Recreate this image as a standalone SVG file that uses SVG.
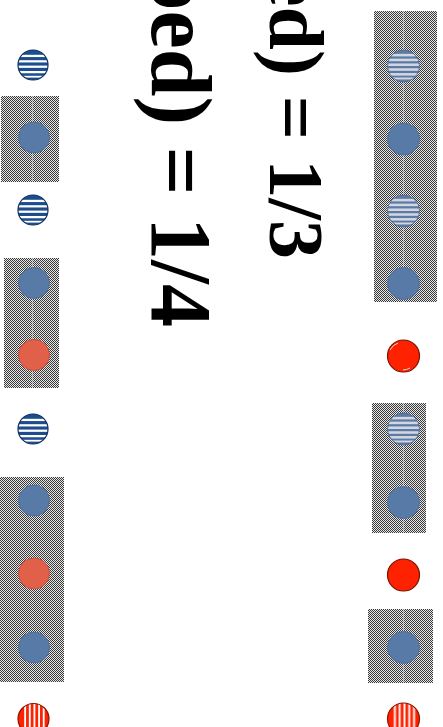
<svg xmlns="http://www.w3.org/2000/svg" width="443" height="727" viewBox="0 0 443 727">
<style>
.t{font-family:"Liberation Serif","Times New Roman",serif;font-weight:bold;fill:#000}
.box{fill:url(#chk)}
.mid{stroke:#ffffff;stroke-width:1;stroke-dasharray:1 1;opacity:0.4}
.sb{fill:url(#hs);stroke:#0c2f63;stroke-width:1.2}
.bb{fill:#587aa6;stroke:#4a6a96;stroke-width:0.8}
.lb{fill:url(#hs2);stroke:#4a6a96;stroke-width:0.8}
.rb{fill:#e0604a;stroke:#c04a38;stroke-width:0.8}
.rs{fill:#ff2200;stroke:#7a1200;stroke-width:1.2}
.hl{fill:none;stroke:#ffd0c8;stroke-width:1}
.vs{fill:url(#vs);stroke:#8a1400;stroke-width:1.2}
</style>
<defs>
<pattern id="chk" width="2" height="2" patternUnits="userSpaceOnUse">
<rect width="2" height="2" fill="#e6e6e6"/>
<rect x="0" y="0" width="1" height="1" fill="#3a3a3a"/>
<rect x="1" y="1" width="1" height="1" fill="#3a3a3a"/>
</pattern>
<pattern id="hs" width="1" height="1" patternContentUnits="objectBoundingBox">
<rect width="1" height="1" fill="#1d4d8c"/>
<rect y="0.16" width="1" height="0.075" fill="#fff"/>
<rect y="0.34" width="1" height="0.075" fill="#fff"/>
<rect y="0.52" width="1" height="0.075" fill="#fff"/>
<rect y="0.70" width="1" height="0.075" fill="#fff"/>
<rect y="0.86" width="1" height="0.06" fill="#fff"/>
</pattern>
<pattern id="hs2" width="1" height="1" patternContentUnits="objectBoundingBox">
<rect width="1" height="1" fill="#5a7aa8"/>
<rect y="0.12" width="1" height="0.08" fill="#d4d6de"/>
<rect y="0.27" width="1" height="0.08" fill="#d4d6de"/>
<rect y="0.42" width="1" height="0.08" fill="#d4d6de"/>
<rect y="0.57" width="1" height="0.08" fill="#d4d6de"/>
<rect y="0.72" width="1" height="0.08" fill="#d4d6de"/>
<rect y="0.86" width="1" height="0.06" fill="#d4d6de"/>
</pattern>
<pattern id="vs" width="1" height="1" patternContentUnits="objectBoundingBox">
<rect width="1" height="1" fill="#ff2200"/>
<rect x="0.2" width="0.06" height="1" fill="#fff"/>
<rect x="0.35" width="0.06" height="1" fill="#fff"/>
<rect x="0.5" width="0.06" height="1" fill="#fff"/>
<rect x="0.65" width="0.06" height="1" fill="#fff"/>
<rect x="0.8" width="0.06" height="1" fill="#fff"/>
</pattern>
</defs>
<rect width="443" height="727" fill="#fff"/>

<g id="text-1-3"><text class="t" font-size="78" text-anchor="end" transform="translate(270,259) rotate(90)">ed) = 1/3</text></g>
<g id="text-1-4"><text class="t" font-size="86" text-anchor="end" transform="translate(152,327) rotate(90)">ped) = 1/4</text></g>

<g id="left-column">
<g id="L1"><circle class="sb" cx="33" cy="65" r="15"/></g>
<g id="L2"><rect class="box" x="1" y="96" width="58" height="86"/><line class="mid" x1="32.5" y1="96" x2="32.5" y2="182"/><circle class="bb" cx="34" cy="137.5" r="15.5"/></g>
<g id="L3"><circle class="sb" cx="33" cy="210" r="15"/></g>
<g id="L4"><rect class="box" x="4" y="258" width="55" height="130"/><line class="mid" x1="32.5" y1="258" x2="32.5" y2="388"/><circle class="bb" cx="34" cy="283" r="15.5"/><circle class="rb" cx="34" cy="355" r="15.5"/></g>
<g id="L5"><circle class="sb" cx="33" cy="429" r="15"/></g>
<g id="L6"><rect class="box" x="0" y="477" width="64" height="205"/><line class="mid" x1="32.5" y1="477" x2="32.5" y2="682"/><circle class="bb" cx="34" cy="500.5" r="15.5"/><circle class="rb" cx="34" cy="573.5" r="15.5"/><circle class="bb" cx="34" cy="647.5" r="15.5"/></g>
<g id="L7"><circle class="vs" cx="33.5" cy="719" r="15.5"/></g>
</g>

<g id="right-column">
<g id="R1"><rect class="box" x="374" y="11" width="63" height="291"/><line class="mid" x1="403.5" y1="11" x2="403.5" y2="302"/><circle class="lb" cx="403.5" cy="66" r="16"/><circle class="bb" cx="403.5" cy="139" r="16"/><circle class="lb" cx="403.5" cy="211" r="16"/><circle class="bb" cx="403.5" cy="283.5" r="16"/></g>
<g id="R2"><circle class="rs" cx="403.5" cy="356" r="16"/><path class="hl" d="M390,350 A14,14 0 0 1 398,343"/><path class="hl" d="M410,368 A14,14 0 0 1 403,370"/></g>
<g id="R3"><rect class="box" x="372" y="403" width="54" height="130"/><line class="mid" x1="403.5" y1="403" x2="403.5" y2="533"/><circle class="lb" cx="403.5" cy="429" r="16"/><circle class="bb" cx="403.5" cy="502.5" r="16"/></g>
<g id="R4"><circle class="rs" cx="403.5" cy="575" r="16"/></g>
<g id="R5"><rect class="box" x="368" y="609" width="65" height="74"/><line class="mid" x1="403.5" y1="609" x2="403.5" y2="683"/><circle class="bb" cx="403.5" cy="647.5" r="16"/></g>
<g id="R6"><circle class="vs" cx="403.5" cy="719" r="16"/></g>
</g>
</svg>
